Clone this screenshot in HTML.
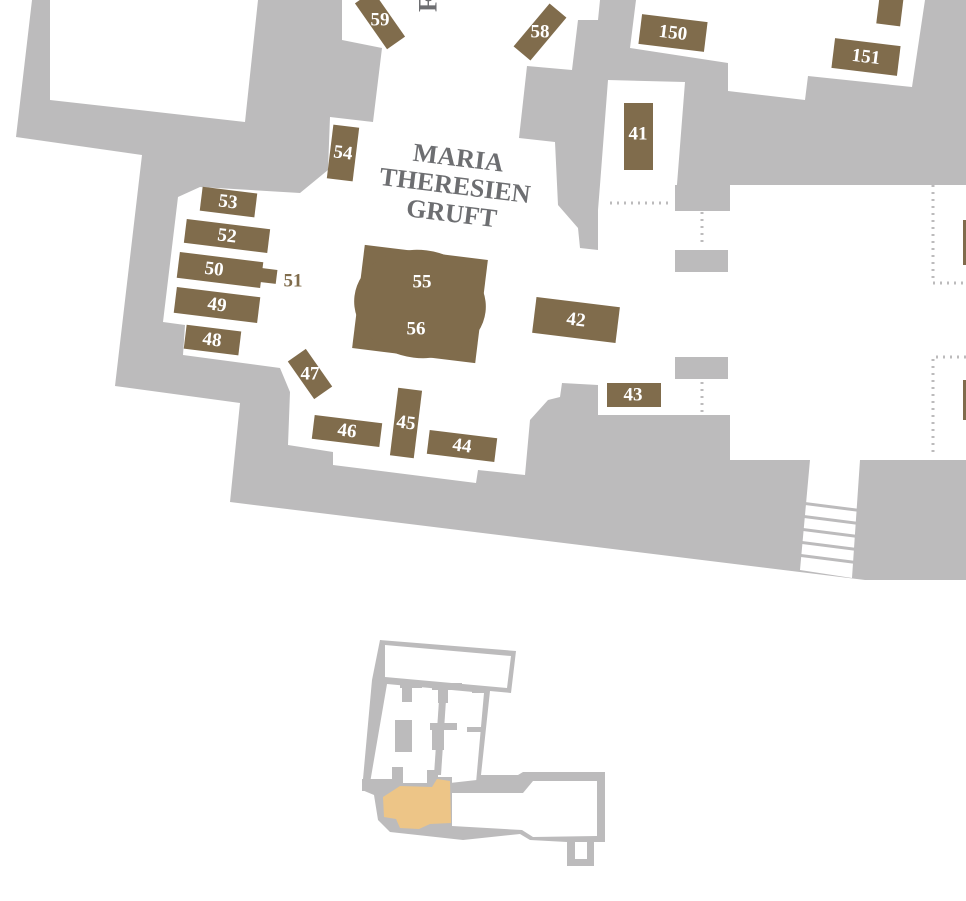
<!DOCTYPE html>
<html><head><meta charset="utf-8"><style>
html,body{margin:0;padding:0;background:#fff;width:966px;height:901px;overflow:hidden}
svg{display:block}
.n{font-family:"Liberation Serif",serif;font-size:19px;font-weight:bold;fill:#fff;text-anchor:middle;dominant-baseline:central}
.b{fill:#806c4c}
</style></head><body>
<svg width="966" height="901" viewBox="0 0 966 901" xmlns="http://www.w3.org/2000/svg">
<g fill="#bcbbbc">
<polygon points="32,0 966,0 966,580 865,580 230,502 240,403 115,386 142,155 16,137"/>
</g>
<g fill="#fff">
<polygon points="50,0 258,0 245,122 50,100"/>
<polygon points="342,0 600,0 598,20 578,20 572,70 527,66 519,138 555,142 558,205 578,228 580,248 598,250 598,210 730,210 730,415 598,415 598,385 562,383 560,397 548,400 530,420 525,475 478,470 476,483 333,465 333,452 288,445 290,392 280,368 183,355 185,325 163,322 178,197 200,187 300,193 328,170 330,117 373,122 382,48 342,40"/>
<polygon points="608,80 685,82 675,210 598,210 600,185"/>
<polygon points="636,0 925,0 912,87 808,76 805,100 728,91 728,63 630,48"/>
<polygon points="730,185 966,185 966,460 860,460 852,578 800,570 810,460 730,460"/>
</g>
<g fill="#bcbbbc">
<rect x="675" y="185" width="55" height="26"/>
<rect x="675" y="250" width="53" height="22"/>
<rect x="675" y="357" width="53" height="22"/>
<polygon points="805,502 860,509 860,512 805,505"/>
<polygon points="804,515 859,522 859,525 804,518"/>
<polygon points="803,528 858,535 858,538 803,531"/>
<polygon points="802,541 857,548 857,551 802,544"/>
<polygon points="801,554 856,561 856,564 801,557"/>
</g>
<g stroke="#bcbbbc" stroke-width="3" stroke-dasharray="2,5" fill="none">
<line x1="610" y1="203" x2="670" y2="203"/>
<line x1="702" y1="212" x2="702" y2="245"/>
<line x1="702" y1="382" x2="702" y2="412"/>
<polyline points="933,185 933,283 966,283"/>
<polyline points="966,357 933,357 933,455"/>
</g>
<rect class="b" x="963" y="220" width="3" height="45"/>
<rect class="b" x="963" y="380" width="3" height="40"/>
<text x="428" y="4" transform="rotate(-90 428 4)" font-family="Liberation Serif,serif" font-weight="bold" font-size="26" fill="#6d6e71" text-anchor="middle" dominant-baseline="central">F</text>
<g transform="translate(380,20) rotate(55)"><rect class="b" x="-28" y="-11" width="56" height="22"/><text class="n" transform="rotate(-55)">59</text></g>
<g transform="translate(540,32) rotate(-50)"><rect class="b" x="-28" y="-11" width="56" height="22"/><text class="n" transform="rotate(50)">58</text></g>
<g transform="translate(673,33) rotate(7)"><rect class="b" x="-33" y="-15" width="66" height="30"/><text class="n">150</text></g>
<g transform="translate(866,57) rotate(7)"><rect class="b" x="-33" y="-15" width="66" height="30"/><text class="n">151</text></g>
<g transform="translate(890,10) rotate(7)"><rect class="b" x="-12" y="-20" width="24" height="35"/></g>
<rect class="b" x="624" y="103" width="29" height="67"/><text class="n" x="638" y="134">41</text>
<g transform="translate(343,153) rotate(7)"><rect class="b" x="-13" y="-27" width="26" height="54"/><text class="n">54</text></g>
<g transform="translate(228,202) rotate(7)"><rect class="b" x="-27" y="-12" width="55" height="24"/><text class="n">53</text></g>
<g transform="translate(227,236) rotate(7)"><rect class="b" x="-42" y="-12" width="84" height="24"/><text class="n">52</text></g>
<g transform="translate(220,270) rotate(7)"><rect class="b" x="-42" y="-13" width="84" height="26"/><rect class="b" x="40" y="-7" width="17" height="14"/><text class="n" x="-6">50</text></g>
<text x="293" y="281" font-family="Liberation Serif,serif" font-weight="bold" font-size="19" fill="#806c4c" text-anchor="middle" dominant-baseline="central">51</text>
<g transform="translate(217,305) rotate(7)"><rect class="b" x="-42" y="-13" width="84" height="26"/><text class="n">49</text></g>
<g transform="translate(212,340) rotate(7)"><rect class="b" x="-27" y="-12" width="55" height="24"/><text class="n">48</text></g>
<g transform="translate(310,374) rotate(-35)"><rect class="b" x="-11" y="-23" width="22" height="46"/><text class="n" transform="rotate(35)">47</text></g>
<g transform="translate(347,431) rotate(7)"><rect class="b" x="-34" y="-12" width="68" height="24"/><text class="n">46</text></g>
<g transform="translate(406,423) rotate(7)"><rect class="b" x="-12" y="-34" width="24" height="68"/><text class="n">45</text></g>
<g transform="translate(462,446) rotate(7)"><rect class="b" x="-34" y="-12" width="68" height="24"/><text class="n">44</text></g>
<rect class="b" x="607" y="383" width="54" height="24"/><text class="n" x="633" y="395">43</text>
<g transform="translate(576,320) rotate(7)"><rect class="b" x="-42" y="-18" width="84" height="36"/><text class="n">42</text></g>
<g transform="translate(420,304) rotate(7)"><rect class="b" x="-62" y="-52" width="124" height="104"/><ellipse class="b" cx="0" cy="0" rx="66" ry="54"/></g>
<text class="n" x="422" y="282">55</text><text class="n" x="416" y="329">56</text>
<g transform="translate(455,186) rotate(7)" font-family="Liberation Serif,serif" font-weight="bold" font-size="26" fill="#6d6e71" text-anchor="middle">
<text x="0" y="-20">MARIA</text><text x="0" y="8">THERESIEN</text><text x="0" y="36">GRUFT</text></g>
<polygon fill="#bcbbbc" points="380,640 516,651 511,693 490,691 481,775 518,775 523,772 605,772 605,842 594,842 594,866 567,866 567,842 530,840 520,834 463,840 390,832 378,820 374,795 362,790 372,680"/>
<g fill="#fff">
<polygon points="385,645 511,656 507,688 385,677"/>
<polygon points="387,684 484,693 476,783 370,783"/>
<polygon points="452,793 523,793 533,781 597,781 597,836 533,837 522,830 452,826"/>
<rect x="575" y="842" width="12" height="17"/>
</g>
<g fill="#bcbbbc">
<rect x="400" y="682" width="22" height="6"/>
<rect x="402" y="682" width="10" height="20"/>
<rect x="432" y="683" width="30" height="7"/>
<rect x="438" y="683" width="10" height="20"/>
<rect x="472" y="688" width="16" height="5"/>
<rect x="395" y="720" width="17" height="32"/>
<rect x="430" y="723" width="27" height="7"/>
<rect x="467" y="727" width="15" height="5"/>
<rect x="432" y="723" width="12" height="27"/>
<polygon points="439,700 446,700 441,775 434,775"/>
<rect x="392" y="767" width="11" height="20"/>
<rect x="427" y="770" width="11" height="17"/>
<rect x="437" y="777" width="15" height="20"/>
<polygon points="450,783 521,775 523,793 450,793"/>
<rect x="362" y="779" width="30" height="12"/>
</g>
<polygon fill="#edc587" points="383,797 400,786 432,787 437,779 450,781 451,823 430,824 419,829 400,828 396,819 384,817"/>
</svg>
</body></html>
